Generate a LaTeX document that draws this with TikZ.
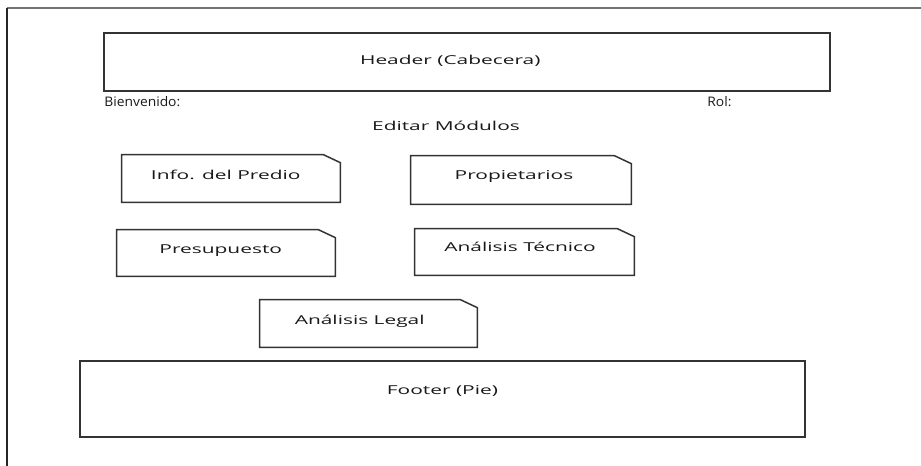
\documentclass[tikz,border=0pt]{standalone}
\usepackage{fontspec}
\setmainfont{Open Sans}
\newfontfamily\anchafont{Open Sans}[FakeStretch=1.7]
\newfontfamily\notafont{Open Sans}[FakeStretch=1.05]
\usetikzlibrary{calc}
% contorno de un modulo con la esquina superior derecha cortada
\def\corte(#1){\draw[line width=0.85pt, color=black!80] (#1.north west) -- ([xshift=-0.34cm]#1.north east) -- ([yshift=-0.16cm]#1.north east) -- (#1.south east) -- (#1.south west) -- cycle;}

\tikzset{
	caja/.style={rectangle, inner sep=0pt},
	marco/.style={caja, draw=black!80, line width=0.85pt},
	modulo/.style={caja, minimum width=4.36cm, minimum height=0.94cm},
	texto/.style={font=\anchafont\fontsize{7}{8}\selectfont, color=black!90, inner sep=0pt},
	nota/.style={font=\notafont\fontsize{7.5}{9}\selectfont, color=black!90, inner sep=0pt}
}

\begin{document}
\begin{tikzpicture}[x=0.02cm, y=-0.02cm]
			%%%%% PAGINA %%%%%
			\useasboundingbox (0, 0) rectangle (921, 466);
			\draw[line width=1pt, color=black!55] (921, 8) -- (7, 8);
			\draw[line width=1.4pt, color=black!85] (7, 8) -- (7, 466);
			
			%%%%% CABECERA %%%%%
			\node[marco, minimum width=14.52cm, minimum height=1.16cm, label={[texto, xshift=-9.5pt, yshift=0.5pt]center:Header (Cabecera)}] (header) at (467, 62) {};
			\node[nota, anchor=west] (bienvenido) at (104, 102) {Bienvenido:};
			\node[nota, anchor=west] (rol) at (707, 102) {Rol:};
			\node[texto] (editar) at (446, 126) {Editar Módulos};
			
			%%%%% MODULOS %%%%%
			\node[modulo, label={[texto, xshift=-3pt, yshift=2.2pt]center:Info. del Predio}] (predio) at (231, 178.5) {};
			\node[modulo, minimum width=4.4cm, minimum height=0.96cm, label={[texto, xshift=-4pt, yshift=2pt]center:Propietarios}] (propietarios) at (521, 180) {};
			\node[modulo, minimum height=0.92cm, label={[texto, xshift=-3pt, yshift=1.2pt]center:Presupuesto}] (presupuesto) at (226, 253) {};
			\node[modulo, minimum width=4.38cm, minimum height=0.92cm, label={[texto, xshift=-2.5pt, yshift=3pt]center:Análisis Técnico}] (tecnico) at (524.5, 252) {};
			\node[modulo, minimum width=4.34cm, label={[texto, xshift=-5pt, yshift=1.5pt]center:Análisis Legal}] (legal) at (368.5, 323.5) {};
			\corte(predio)
			\corte(propietarios)
			\corte(presupuesto)
			\corte(tecnico)
			\corte(legal)
			
			%%%%% PIE %%%%%
			\node[marco, minimum width=14.5cm, minimum height=1.52cm, label={[texto, yshift=4.5pt]center:Footer (Pie)}] (footer) at (442.5, 399) {};
		\end{tikzpicture}
\end{document}
